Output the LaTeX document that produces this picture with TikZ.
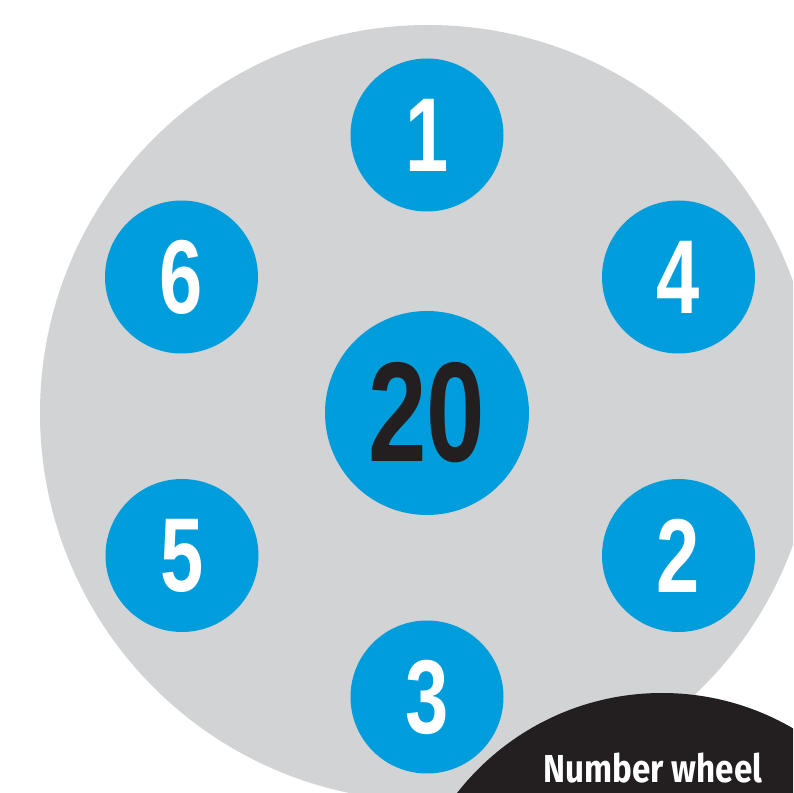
\documentclass[tikz,border=0pt]{standalone}
\usepackage{fontspec}
\setmainfont{Liberation Sans}
\newfontfamily\numfont[FakeStretch=0.74]{Liberation Sans Bold}
\newfontfamily\labfont[FakeStretch=0.85]{Fira Sans Bold}
\definecolor{wheelgray}{HTML}{D1D3D4}
\definecolor{wheelblue}{HTML}{009DDC}
\definecolor{wheelblack}{HTML}{231F20}
\begin{document}
\begin{tikzpicture}[x=1pt,y=1pt,
  numdisc/.style={circle,fill=wheelblue,minimum size=153pt,inner sep=0pt,
    text=white,font=\numfont\fontsize{105}{105}\selectfont},
  centredisc/.style={circle,fill=wheelblue,minimum size=204pt,inner sep=0pt,
    text=wheelblack,font=\numfont\fontsize{142}{142}\selectfont},
  labeltext/.style={text=white,inner sep=0pt,font=\labfont\fontsize{39}{39}\selectfont}]
\useasboundingbox (0,0) rectangle (793,793);
\clip (0,0) rectangle (793,793);
\fill[wheelgray] (428,380) circle[radius=388];
\node[centredisc] (n20) at (427,380) {20};
\node[numdisc] (n1) at (427,658) {1};
\node[numdisc] (n6) at (181.5,516) {6};
\node[numdisc] (n4) at (678.5,516) {4};
\node[numdisc] (n5) at (182,237.5) {5};
\node[numdisc] (n2) at (678.5,237.5) {2};
\node[numdisc] (n3) at (427,96) {3};
\fill[wheelblack] (662,-160) circle[radius=260];
\node[labeltext] (lab) at (653,25) {Number wheel};
\end{tikzpicture}
\end{document}
